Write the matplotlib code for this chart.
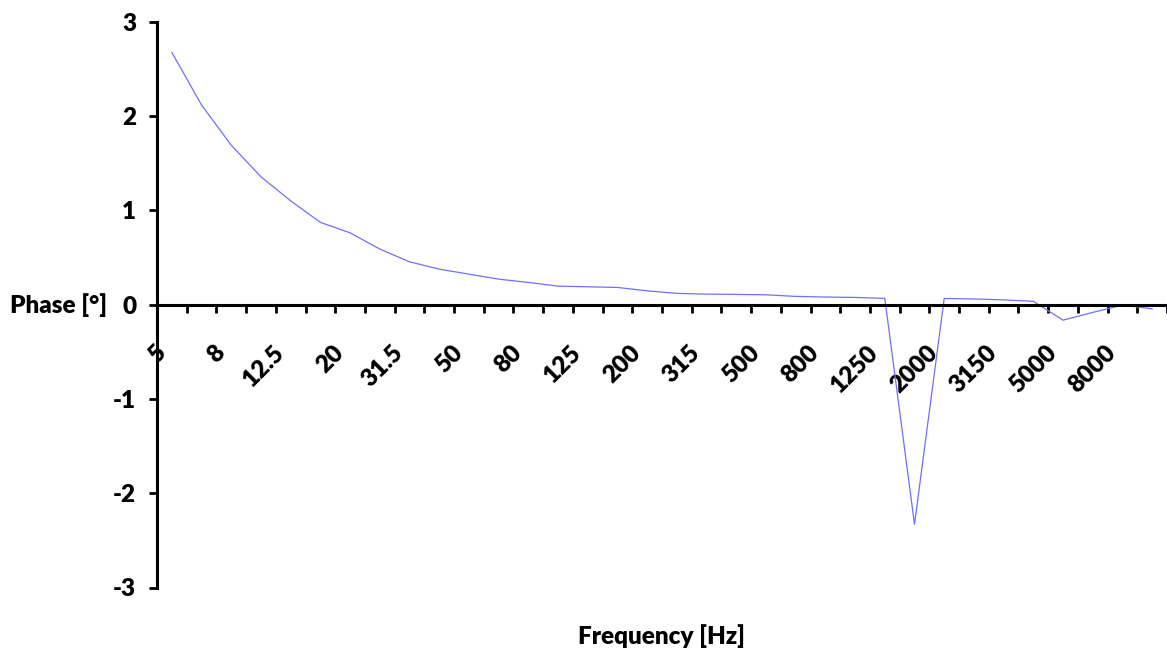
import matplotlib
matplotlib.use("Agg")
import matplotlib.pyplot as plt
from matplotlib.transforms import ScaledTranslation
import numpy as np

# Third-octave frequency bands (Hz)
frequencies = ["5", "6.3", "8", "10", "12.5", "16", "20", "25", "31.5", "40",
               "50", "63", "80", "100", "125", "160", "200", "250", "315", "400",
               "500", "630", "800", "1000", "1250", "1600", "2000", "2500", "3150",
               "4000", "5000", "6300", "8000", "10000"]
# Phase values (degrees)
phase = [2.674, 2.116, 1.69, 1.355, 1.10, 0.872, 0.761, 0.589, 0.454, 0.376,
         0.323, 0.27, 0.235, 0.196, 0.189, 0.182, 0.146, 0.119, 0.111, 0.108,
         0.104, 0.087, 0.08, 0.076, 0.066, -2.33, 0.065, 0.06, 0.05, 0.035,
         -0.165, -0.083, -0.005, -0.045]
y_ticks = [-3, -2, -1, 0, 1, 2, 3]

W, H = 1167, 653
fig = plt.figure(figsize=(W / 100, H / 100), dpi=100)
left, right = 157, 1167
top, bottom = 21.7, 587.5
ax = fig.add_axes([left / W, 1 - bottom / H, (right - left) / W, (bottom - top) / H])

FONT = "Lato"
FS = 17.5
WEIGHT = "heavy"

n = len(frequencies)
x = np.arange(n)
ax.plot(x, phase, color="#6F6FFF", lw=0.9)

ax.set_xlim(-0.5, n - 0.5)
ax.set_ylim(-3, 3)

for s in ["top", "right"]:
    ax.spines[s].set_visible(False)
ax.spines["bottom"].set_position(("data", 0))
ax.spines["left"].set_linewidth(2.2)
ax.spines["bottom"].set_linewidth(2.2)

ax.set_yticks(y_ticks)
ax.set_yticklabels([str(v) for v in y_ticks], fontfamily=FONT, fontweight=WEIGHT, fontsize=FS)
ax.tick_params(axis="y", direction="out", length=6, width=2, pad=9)

label_idx = list(range(0, n, 2))
ax.set_xticks(label_idx)
ax.set_xticks(np.arange(n + 1) - 0.5, minor=True)
ax.tick_params(axis="x", which="minor", direction="out", length=6, width=2)
ax.tick_params(axis="x", which="major", length=0, pad=32)
ax.set_xticklabels([frequencies[i] for i in label_idx], rotation=45, ha="right",
                   va="center", rotation_mode="anchor",
                   fontfamily=FONT, fontweight=WEIGHT, fontsize=FS)

ax.set_ylabel("Phase [°]", rotation=0, ha="right", va="center",
              fontfamily=FONT, fontweight=WEIGHT, fontsize=FS)
ax.yaxis.set_label_coords((107 - left) / (right - left), 0.5)
ax.set_xlabel("Frequency [Hz]", va="center", fontfamily=FONT, fontweight=WEIGHT, fontsize=FS)
ax.xaxis.set_label_coords(0.5, -(636 - bottom) / (bottom - top))

off = ScaledTranslation(-10 / 100, 0, fig.dpi_scale_trans)
for lab in ax.get_xticklabels():
    lab.set_transform(lab.get_transform() + off)

fig.savefig("out.png", dpi=100)
